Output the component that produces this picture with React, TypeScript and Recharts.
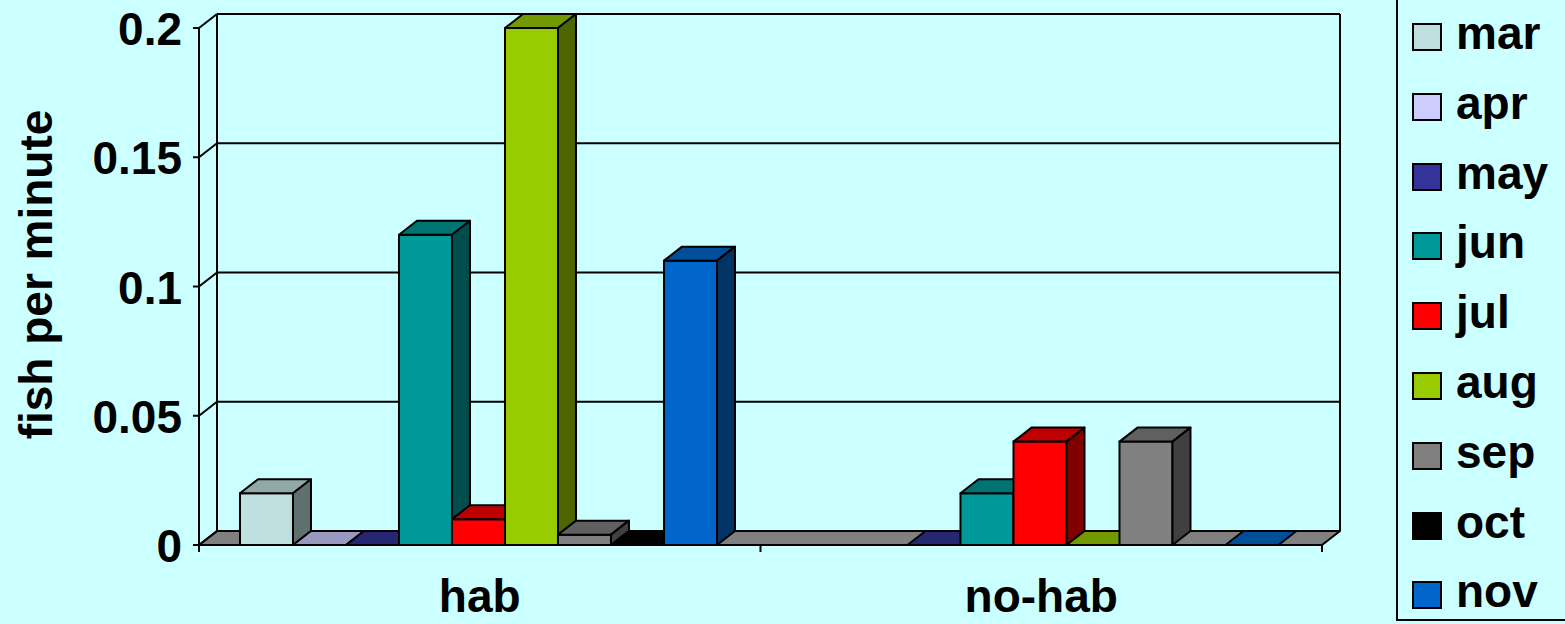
import React from 'react';
import { BarChart, Bar, XAxis, YAxis, CartesianGrid, Legend } from 'recharts';

const categories = ['hab', 'no-hab'];
const months = ['mar', 'apr', 'may', 'jun', 'jul', 'aug', 'sep', 'oct', 'nov'];
const habValues = [0.02, 0, 0, 0.12, 0.01, 0.2, 0.004, 0, 0.11];
const noHabValues = [null, null, 0, 0.02, 0.04, 0, 0.04, null, 0];
const monthColors = ['#C0E0E0', '#CCCCFF', '#333399', '#009999', '#FF0000', '#99CC00', '#808080', '#000000', '#0066CC'];
const yTicks = [0, 0.05, 0.1, 0.15, 0.2];

const seriesByCategory = [habValues, noHabValues];
const data = categories.map((c, ci) => {
  const row: any = { category: c };
  months.forEach((m, mi) => {
    row[m] = seriesByCategory[ci][mi];
  });
  return row;
});

const DX = 18;
const DY = 14;
const BG = '#CCFFFF';
const FONT = '"Liberation Sans", Arial, Helvetica, sans-serif';
const FS = 46;
const SW = 2;

function shade(hex: string, f: number) {
  const n = parseInt(hex.slice(1), 16);
  const r = Math.round(((n >> 16) & 255) * f);
  const g = Math.round(((n >> 8) & 255) * f);
  const b = Math.round((n & 255) * f);
  return `rgb(${r},${g},${b})`;
}

function Box3D(props: any) {
  const { x, y, width, height, payload, k, color } = props;
  if (!payload || payload[k] == null) return <g />;
  const h = Math.max(0, height || 0);
  const top = `${x},${y} ${x + DX},${y - DY} ${x + width + DX},${y - DY} ${x + width},${y}`;
  const side = `${x + width},${y} ${x + width + DX},${y - DY} ${x + width + DX},${y + h - DY} ${x + width},${y + h}`;
  return (
    <g strokeLinejoin="round">
      {h > 0 && <rect x={x} y={y} width={width} height={h} fill={color} stroke="#000" strokeWidth={SW} />}
      <polygon points={top} fill={shade(color, 0.75)} stroke="#000" strokeWidth={SW} />
      {h > 0 && <polygon points={side} fill={shade(color, 0.5)} stroke="#000" strokeWidth={SW} />}
    </g>
  );
}

function GridLine(props: any) {
  const { x, y, width, height, y1, index } = props;
  const bottom = y + height;
  const right = x + width;
  const parts: any[] = [];
  if (index === 0) {
    parts.push(
      <polygon
        key="floor"
        points={`${x},${bottom} ${right},${bottom} ${right + DX},${bottom - DY} ${x + DX},${bottom - DY}`}
        fill="#808080"
        stroke="#000"
        strokeWidth={SW}
        strokeLinejoin="round"
      />
    );
    parts.push(<line key="wl" x1={x + DX} y1={y - DY} x2={x + DX} y2={bottom - DY} stroke="#000" strokeWidth={SW} />);
    parts.push(<line key="wr" x1={right + DX} y1={y - DY} x2={right + DX} y2={bottom - DY} stroke="#000" strokeWidth={SW} />);
    const n = categories.length;
    for (let i = 0; i <= n; i++) {
      const tx = x + (i * width) / n;
      parts.push(<line key={`t${i}`} x1={tx} y1={bottom} x2={tx} y2={bottom + 7} stroke="#000" strokeWidth={SW} />);
    }
  }
  parts.push(<line key="d" x1={x} y1={y1} x2={x + DX} y2={y1 - DY} stroke="#000" strokeWidth={SW} />);
  parts.push(<line key="b" x1={x + DX} y1={y1 - DY} x2={right + DX} y2={y1 - DY} stroke="#000" strokeWidth={SW} />);
  return <g key={`g-${index}`}>{parts}</g>;
}

function YTick(props: any) {
  const { x, y, payload } = props;
  return (
    <text x={x} y={y} dx={-9} dy={17} textAnchor="end" fontFamily={FONT} fontWeight="bold" fontSize={FS} fill="#000">
      {String(payload.value)}
    </text>
  );
}

function XTick(props: any) {
  const { x, y, payload } = props;
  return (
    <text x={x} y={y} dy={67} textAnchor="middle" fontFamily={FONT} fontWeight="bold" fontSize={FS} fill="#000">
      {payload.value}
    </text>
  );
}

function renderYTitle(props: any) {
  const vb = props.viewBox || { x: 0, y: 28, width: 199, height: 517 };
  const cx = 52;
  const cy = vb.y + vb.height / 2 - 12;
  return (
    <text
      x={cx}
      y={cy}
      transform={`rotate(-90 ${cx} ${cy})`}
      textAnchor="middle"
      fontFamily={FONT}
      fontWeight="bold"
      fontSize={FS}
      fill="#000"
    >
      fish per minute
    </text>
  );
}

function LegendContent(props: any) {
  const payload = [...(props.payload || [])].sort(
    (a: any, b: any) => months.indexOf(a.value) - months.indexOf(b.value)
  );
  return (
    <div
      style={{
        position: 'absolute',
        left: 0,
        top: -20,
        width: 200,
        height: 641,
        boxSizing: 'border-box',
        border: '2px solid #000',
        background: BG,
      }}
    >
      {payload.map((item: any, i: number) => {
        const center = 37 + i * 69.8 + 18;
        return (
          <React.Fragment key={item.value}>
            <div
              style={{
                position: 'absolute',
                left: 14,
                top: center - 14,
                width: 30,
                height: 28,
                boxSizing: 'border-box',
                border: '2px solid #000',
                background: item.color,
              }}
            />
            <div
              style={{
                position: 'absolute',
                left: 58,
                top: center - 27,
                fontFamily: FONT,
                fontWeight: 'bold',
                fontSize: FS,
                lineHeight: `${FS}px`,
                color: '#000',
                whiteSpace: 'nowrap',
              }}
            >
              {item.value}
            </div>
          </React.Fragment>
        );
      })}
    </div>
  );
}

export default function App() {
  return (
    <div style={{ position: 'absolute', left: 0, top: 0, width: 1565, height: 624, background: BG, overflow: 'hidden' }}>
      <BarChart
        width={1565}
        height={624}
        data={data}
        margin={{ top: 28, right: 243, bottom: 0, left: 0 }}
        barCategoryGap="7.3%"
        barGap={0}
      >
        <CartesianGrid horizontal={GridLine as any} vertical={false} fill="none" stroke="#000" />
        <XAxis
          dataKey="category"
          height={79}
          axisLine={{ stroke: '#000', strokeWidth: SW }}
          tickLine={false}
          tickSize={0}
          tickMargin={0}
          tick={<XTick />}
          interval={0}
        />
        <YAxis
          width={199}
          domain={[0, 0.2]}
          ticks={yTicks}
          interval={0}
          axisLine={{ stroke: '#000', strokeWidth: SW }}
          tickLine={{ stroke: '#000', strokeWidth: SW }}
          tickSize={6}
          tick={<YTick />}
          label={renderYTitle}
        />
        <Legend
          layout="vertical"
          align="right"
          verticalAlign="top"
          content={<LegendContent />}
          wrapperStyle={{ position: 'absolute', left: 1396, top: 0, width: 0, height: 0, overflow: 'visible' }}
        />
        {months.map((m, i) => (
          <Bar
            key={m}
            dataKey={m}
            fill={monthColors[i]}
            isAnimationActive={false}
            shape={(p: any) => <Box3D {...p} k={m} color={monthColors[i]} />}
          />
        ))}
      </BarChart>
    </div>
  );
}
